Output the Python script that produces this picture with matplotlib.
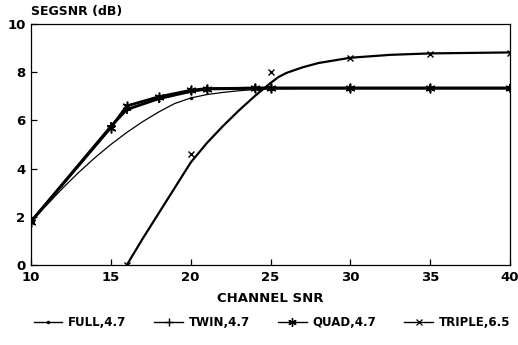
import matplotlib.pyplot as plt
from matplotlib.lines import Line2D

plt.rcParams['font.family'] = 'DejaVu Sans'
plt.rcParams['font.weight'] = 'bold'

# FULL (thin curve)
full_snr = [10, 11, 12, 13, 14, 15, 16, 17, 18, 19, 20, 21, 22, 23, 24, 25, 30, 35, 40]
full_val = [1.8, 2.5, 3.2, 3.85, 4.45, 5.0, 5.5, 5.95, 6.35, 6.7, 6.93, 7.07, 7.16, 7.23, 7.28, 7.32, 7.34, 7.34, 7.34]
full_marks = [0, 10, 15, 16, 17, 18]

twin_snr = [10, 15, 16, 18, 20, 21, 24, 25, 30, 35, 40]
twin_val = [1.8, 5.75, 6.45, 6.9, 7.2, 7.3, 7.34, 7.34, 7.34, 7.34, 7.34]

quad_snr = [10, 15, 16, 18, 20, 21, 24, 25, 30, 35, 40]
quad_val = [1.8, 5.7, 6.6, 6.98, 7.25, 7.32, 7.34, 7.34, 7.34, 7.34, 7.34]

# TRIPLE: fitted curve and measured points
triple_curve_snr = [16, 17, 18, 19, 20, 21, 22, 23, 24, 25, 25.5, 26, 27, 28, 30, 32.5, 35, 40]
triple_curve_val = [0, 1.1, 2.15, 3.2, 4.25, 5.05, 5.75, 6.4, 7.0, 7.55, 7.8, 7.97, 8.2, 8.38, 8.6, 8.72, 8.78, 8.82]
triple_pts_snr = [16, 20, 25, 30, 35, 40]
triple_pts_val = [0, 4.6, 8.0, 8.6, 8.75, 8.8]

labels = ['FULL,4.7', 'TWIN,4.7', 'QUAD,4.7', 'TRIPLE,6.5']

fig = plt.figure(figsize=(5.18, 3.45), dpi=100)
ax = fig.add_axes([31/518, 1 - 265/345, (510 - 31)/518, (265 - 24)/345])

ax.plot(full_snr, full_val, color='black', lw=0.9, marker='.', markersize=3,
        markevery=full_marks)
ax.plot(twin_snr, twin_val, color='black', lw=2.0, marker='+', markersize=6, mew=1.3)
ax.plot(quad_snr, quad_val, color='black', lw=2.0, marker=(6, 2, 0), markersize=7, mew=1.1)
ax.plot(triple_curve_snr, triple_curve_val, color='black', lw=1.6)
ax.plot(triple_pts_snr, triple_pts_val, color='black', lw=0, marker='x', markersize=4.5, mew=1.0)

ax.set_xlim(10, 40)
ax.set_ylim(0, 10)
ax.set_xticks([10, 15, 20, 25, 30, 35, 40])
ax.set_yticks([0, 2, 4, 6, 8, 10])
ax.tick_params(direction='in', length=4, width=0.9, labelsize=9.5, pad=4)
for lbl in ax.get_xticklabels() + ax.get_yticklabels():
    lbl.set_fontweight('bold')
for s in ax.spines.values():
    s.set_linewidth(0.9)

ax.set_xlabel('CHANNEL SNR', fontsize=9.5, fontweight='bold', labelpad=6)
fig.text(31/518, 1 - 12/345, 'SEGSNR (dB)', fontsize=9, fontweight='bold',
         ha='left', va='center')

# legend with thin proxy lines
handles = [
    Line2D([], [], color='black', lw=1.0, marker='.', markersize=3),
    Line2D([], [], color='black', lw=1.0, marker='+', markersize=6, mew=1.0),
    Line2D([], [], color='black', lw=1.0, marker=(6, 2, 0), markersize=6, mew=1.0),
    Line2D([], [], color='black', lw=1.0, marker='x', markersize=4, mew=0.9),
]
fig.legend(handles, labels, loc='center', bbox_to_anchor=(0.525, 1 - 323/345),
           ncol=4, frameon=False, handlelength=2.4,
           columnspacing=2.4, handletextpad=0.5, prop={'weight': 'bold', 'size': 8.5})

fig.savefig('out.png', dpi=100)
